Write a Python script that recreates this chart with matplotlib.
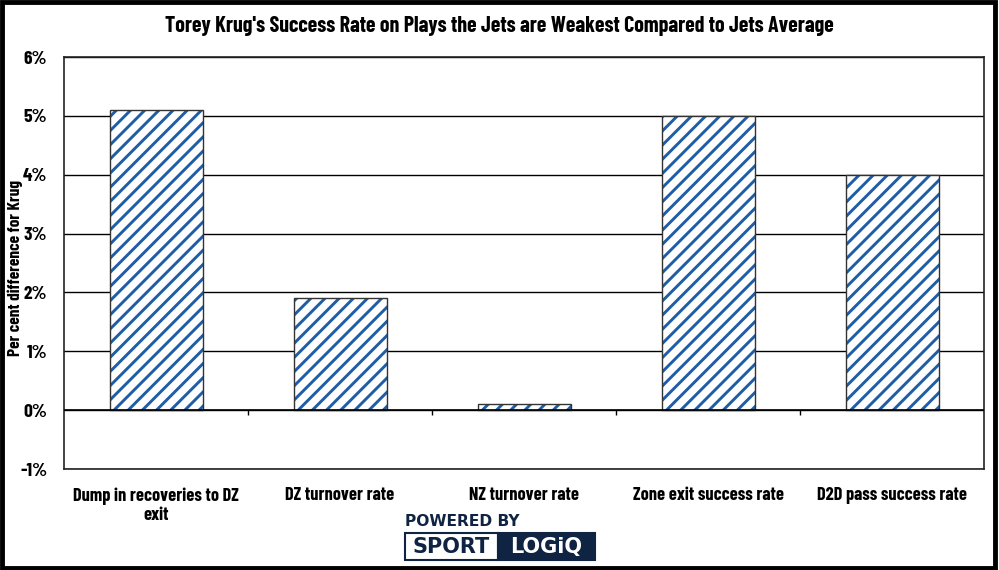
import matplotlib
matplotlib.use("Agg")
import numpy as np
import matplotlib.pyplot as plt
from matplotlib.patches import Rectangle

categories = ["Dump in recoveries to DZ\nexit", "DZ turnover rate", "NZ turnover rate",
              "Zone exit success rate", "D2D pass success rate"]
values = [5.1, 1.9, 0.1, 5.0, 4.0]  # per cent
y_ticks = [-1, 0, 1, 2, 3, 4, 5, 6]

title = "Torey Krug's Success Rate on Plays the Jets are Weakest Compared to Jets Average"
y_label = "Per cent difference for Krug"

# render at dpi 85 so the '//' hatch gets a ~7px period; S rescales point sizes
DPI = 85
S = 100 / DPI

fam = ["Barlow Condensed", "DejaVu Sans"]
logo_fam = "DejaVu Sans"
plt.rcParams["font.family"] = fam
plt.rcParams["hatch.linewidth"] = 2.1 * S

fig = plt.figure(figsize=(999 / DPI, 570 / DPI), dpi=DPI)
ax = fig.add_axes([0.0641, 0.177, 0.921, 0.723])

x = np.arange(len(categories))
# hatch layer (blue stripes) then outline layer
ax.bar(x, values, width=0.505, color="white", edgecolor="#1f5ea6", linewidth=0,
       hatch="//", zorder=3)
ax.bar(x, values, width=0.505, color="none", edgecolor="#333333", linewidth=1.0 * S,
       zorder=3.5)

ax.set_xlim(-0.5, len(categories) - 0.5)
ax.set_ylim(y_ticks[0], y_ticks[-1])
ax.set_yticks(y_ticks)
ax.set_yticklabels([f"{t}%" for t in y_ticks], fontsize=14 * S, fontweight="bold")
ax.tick_params(axis="y", length=0, pad=12 * S)
ax.yaxis.grid(True, color="black", linewidth=1.0 * S, zorder=0)
ax.set_axisbelow(True)

ax.set_xticks(x)
ax.set_xticklabels(categories, fontsize=13.2 * S, fontweight="bold")
ax.tick_params(axis="x", length=0, pad=13 * S)

# category axis on the zero line with boundary ticks
ax.axhline(0, color="black", linewidth=1.2 * S, zorder=4)
bounds = np.arange(len(categories) - 1) + 0.5
tick_len = (y_ticks[-1] - y_ticks[0]) * 5 / 412
ax.vlines(bounds, -tick_len, 0, color="black", linewidth=1.0 * S, zorder=4)

for s in ax.spines.values():
    s.set_color("#222222")
    s.set_linewidth(1.2 * S)

fig.text(15 / 999, 1 - 268 / 570, y_label, rotation=90, ha="center", va="center",
         fontsize=12.5 * S, fontweight="bold")
fig.text(0.5, 0.955, title, ha="center", va="center", fontsize=15.8 * S, fontweight="bold")

# powered by logo
navy = "#0f2342"
fig.text(0.405, 0.085, "POWERED BY", color=navy, fontsize=11.2 * S, fontweight="bold",
         ha="left", va="center", family=logo_fam)
fig.patches.append(Rectangle((0.405, 0.017), 0.093, 0.048, transform=fig.transFigure,
                             facecolor="white", edgecolor=navy, linewidth=1.5 * S))
fig.patches.append(Rectangle((0.498, 0.017), 0.098, 0.048, transform=fig.transFigure,
                             facecolor=navy, edgecolor=navy, linewidth=1.5 * S))
fig.text(0.4515, 0.041, "SPORT", color=navy, fontsize=15 * S, fontweight="bold",
         ha="center", va="center", family=logo_fam)
fig.text(0.547, 0.041, "LOGiQ", color="white", fontsize=15 * S, fontweight="bold",
         ha="center", va="center", family=logo_fam)

# outer border
fig.patches.append(Rectangle((0.002, 0.003), 0.994, 0.994, transform=fig.transFigure,
                             facecolor="none", edgecolor="black", linewidth=3.5 * S))

fig.savefig("out.png", dpi=DPI)
